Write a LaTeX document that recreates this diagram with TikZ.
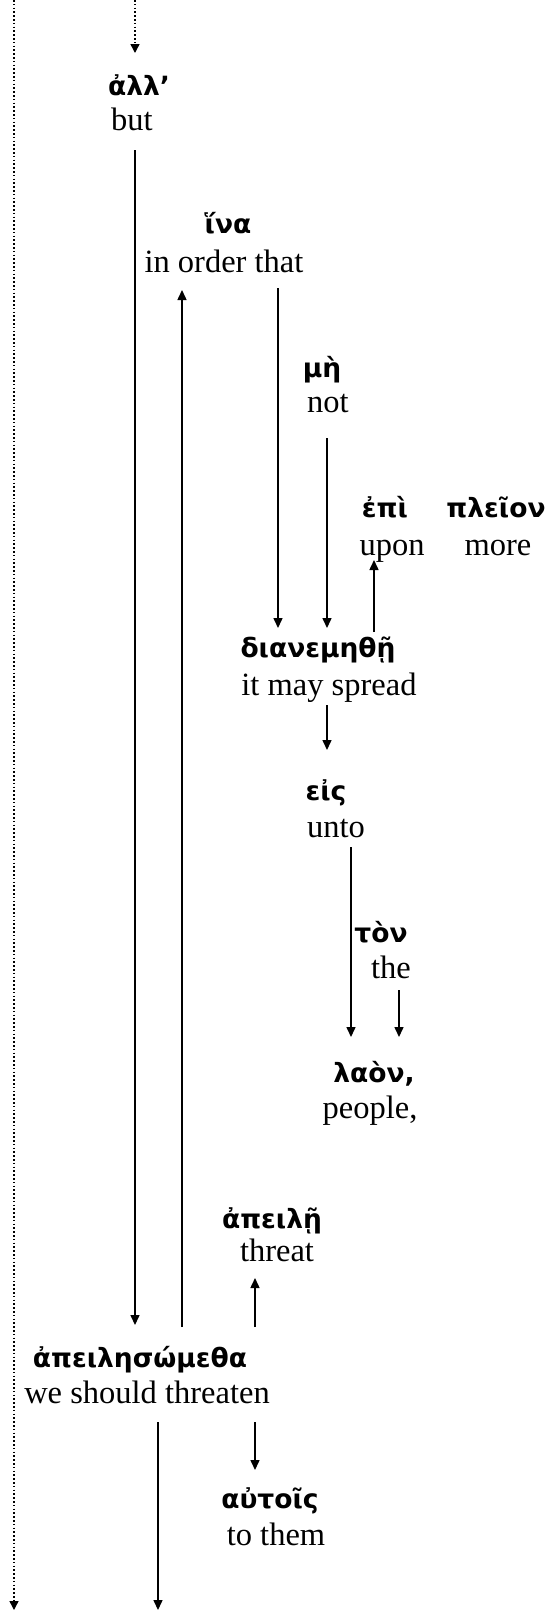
\documentclass[tikz,border=0pt]{standalone}
\usepackage{fontspec}
\setmainfont{Liberation Serif}
\newfontfamily\grkfont{DejaVu Sans}
\usetikzlibrary{arrows.meta,calc}
\begin{document}
\begin{tikzpicture}[x=1pt,y=-1pt,
  gr/.style={font=\grkfont\bfseries\fontsize{26.5}{30}\selectfont, inner sep=0pt, anchor=base},
  en/.style={font=\fontsize{32.5}{36}\selectfont, inner sep=0pt, anchor=base},
  arr/.style={line width=1.5pt, -{Triangle[length=10pt,width=9pt]}},
  dotarr/.style={line width=1.4pt, dash pattern=on 1.6pt off 2.2pt, -{Triangle[length=9pt,width=9pt]}}]
\useasboundingbox (0,0) rectangle (550,1612);
% nodes
\node[gr] (alla) at (139,95) {ἀλλ’};
\node[en] (but) at (132,130) {but};
\node[gr] (hina) at (228,233) {ἵνα};
\node[en] (iot) at (224,272) {in order that};
\node[gr] (me) at (322,377) {μὴ};
\node[en] (not) at (328,412) {not};
\node[gr] (epi) at (385,517) {ἐπὶ};
\node[en] (upon) at (392,555) {upon};
\node[gr] (pleion) at (496,517) {πλεῖον};
\node[en] (more) at (498,555) {more};
\node[gr] (dian) at (318,657) {διανεμηθῇ};
\node[en] (spread) at (329,695) {it may spread};
\node[gr] (eis) at (326,800) {εἰς};
\node[en] (unto) at (336,837) {unto};
\node[gr] (ton) at (381,942) {τὸν};
\node[en] (the) at (391,978) {the};
\node[gr] (laon) at (374,1082) {λαὸν,};
\node[en] (people) at (370,1118) {people,};
\node[gr] (apeile) at (272,1228) {ἀπειλῇ};
\node[en] (threat) at (277,1261) {threat};
\node[gr] (apei) at (140,1367) {ἀπειλησώμεθα};
\node[en] (threaten) at (147,1403) {we should threaten};
\node[gr] (autois) at (270,1508) {αὐτοῖς};
\node[en] (them) at (276,1545) {to them};
% free ends
\coordinate (topin) at (135,0);
\coordinate (leftin) at (14,0);
\coordinate (leftout) at (14,1610);
\coordinate (bottomout) at (158,1610);
% connectors
\draw[dotarr] (topin) -- ($(alla.base)+(-4,-42)$);
\draw[dotarr] (leftin) -- (leftout);
\draw[arr] ($(but.base)+(3,20)$) -- ($(apei.base)+(-5,-42)$);
\draw[arr] ($(apei.base)+(42,-40)$) -- ($(iot.base)+(-42,18)$);
\draw[arr] ($(iot.base)+(54,16)$) -- ($(dian.base)+(-40,-29)$);
\draw[arr] ($(not.base)+(-1,26)$) -- ($(dian.base)+(9,-29)$);
\draw[arr] ($(dian.base)+(56,-25)$) -- ($(upon.base)+(-18,5)$);
\draw[arr] ($(spread.base)+(-2,10)$) -- ($(eis.base)+(1,-50)$);
\draw[arr] ($(unto.base)+(15,10)$) -- ($(laon.base)+(-23,-45)$);
\draw[arr] ($(the.base)+(8,12)$) -- ($(laon.base)+(25,-45)$);
\draw[arr] ($(apei.base)+(115,-40)$) -- ($(threat.base)+(-22,17)$);
\draw[arr] ($(threaten.base)+(108,19)$) -- ($(autois.base)+(-15,-38)$);
\draw[arr] ($(threaten.base)+(11,19)$) -- (bottomout);
\end{tikzpicture}
\end{document}
